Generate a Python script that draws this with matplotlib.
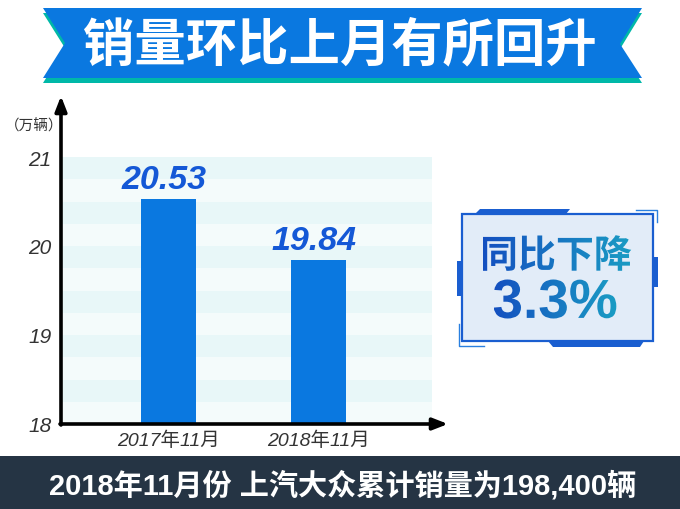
import numpy as np
import matplotlib
matplotlib.use("Agg")
import matplotlib.pyplot as plt
from matplotlib.patches import Polygon, Rectangle, PathPatch
from matplotlib.textpath import TextPath
from matplotlib.font_manager import FontProperties
from matplotlib.colors import LinearSegmentedColormap
from matplotlib.transforms import Affine2D

plt.rcParams['font.family'] = ['Liberation Sans', 'Noto Sans CJK SC', 'DejaVu Sans']

# data
months = ['2017年11月', '2018年11月']
sales = [20.53, 19.84]          # 万辆
y_ticks = [18, 19, 20, 21]
title = '销量环比上月有所回升'
yoy_text = '同比下降'
yoy_value = '3.3%'
footer = '2018年11月份 上汽大众累计销量为198,400辆'
unit = '（万辆）'

W, H = 680, 510
fig = plt.figure(figsize=(W / 100, H / 100), dpi=100)

# main chart axes (pixel box: left 61, right 432, top 158, bottom 425)
ax = fig.add_axes([61 / W, (H - 425) / H, 371 / W, 267 / H])
x = np.arange(len(months))
ax.set_xlim(-0.717, 1.753)
ax.set_ylim(18, 21)

# striped background
for i, y0 in enumerate(np.arange(18, 21, 0.25)):
    c = '#e8f7f8' if i % 2 == 1 else '#f4fbfb'
    ax.axhspan(y0, y0 + 0.25, color=c, lw=0, zorder=0)

bars = ax.bar(x, [v - 18 for v in sales], bottom=18, width=0.367,
              color='#0a78e0', zorder=2)
for xi, v in zip(x, sales):
    ax.text(xi - 0.03, v + 0.22, f'{v:.2f}', ha='center', va='center',
            fontsize=24.5, fontweight='bold', style='italic', color='#1458d6',
            family='Liberation Sans', zorder=3)

for s in ax.spines.values():
    s.set_visible(False)
ax.set_yticks(y_ticks)
ax.set_yticklabels([str(t) for t in y_ticks], style='italic', fontsize=15, color='#333333')
ax.set_xticks(x)
ax.set_xticklabels(months, style='italic', fontsize=14, color='#333333')
ax.tick_params(axis='both', length=0)
ax.tick_params(axis='y', pad=7)
ax.tick_params(axis='x', pad=5)

# overlay in pixel coordinates for decorations
ov = fig.add_axes([0, 0, 1, 1], zorder=5)
ov.set_xlim(0, W)
ov.set_ylim(0, H)
ov.axis('off')

def P(px, py):
    return (px, H - py)

# axis arrows
ov.annotate('', xy=P(61, 97), xytext=P(61, 426),
            arrowprops=dict(arrowstyle='-|>,head_length=0.9,head_width=0.35',
                            color='black', lw=2.6, shrinkA=0, shrinkB=0))
ov.annotate('', xy=P(448, 425), xytext=P(60, 425),
            arrowprops=dict(arrowstyle='-|>,head_length=0.9,head_width=0.35',
                            color='black', lw=2.6, shrinkA=0, shrinkB=0))
ov.text(*P(34, 126), unit, ha='center', va='center', fontsize=10.5,
        style='italic', color='#333333')

# title banner
banner = [(43, 9), (642, 9), (620, 45), (642, 79), (43, 79), (65, 44)]
ov.add_patch(Polygon([P(a, b + 5) for a, b in banner], closed=True,
                     color='#00b8a8', lw=0))
ov.add_patch(Polygon([P(a, b) for a, b in banner], closed=True,
                     color='#0a78e0', lw=0))
ov.text(*P(340, 45), title, ha='center', va='center', fontsize=37,
        fontweight='bold', color='white', family='Noto Sans CJK SC')

# footer bar
ov.add_patch(Rectangle(P(0, 510), W, 53, color='#253444', lw=0))
ov.text(*P(343, 486), footer, ha='center', va='center', fontsize=21,
        fontweight='bold', color='white',
        family=['Liberation Sans', 'Noto Sans CJK SC'])

# year-on-year box
dark = '#1a5ed0'
ov.add_patch(Polygon([P(475, 215), P(480, 210), P(570, 210), P(566, 215)],
                     closed=True, color=dark, lw=0))
ov.add_patch(Polygon([P(548, 342), P(644, 342), P(640, 348), P(553, 348)],
                     closed=True, color=dark, lw=0))
ov.add_patch(Rectangle(P(457, 297), 5, 35, color=dark, lw=0))
ov.add_patch(Rectangle(P(653, 288), 5, 30, color=dark, lw=0))
ov.add_patch(Rectangle(P(462, 342), 191, 127, facecolor='#e2ecf8',
                       edgecolor=dark, lw=1.6))
ov.plot(*zip(P(459, 325), P(459, 347), P(484, 347)), color='#2a80e0', lw=1)
ov.plot(*zip(P(636, 211), P(657, 211), P(657, 223)), color='#2a80e0', lw=1)

grad_cmap = LinearSegmentedColormap.from_list('g', ['#1450c0', '#1a9cc4'])

def gradient_text(s, cx, cy, size, family):
    fp = FontProperties(family=family, weight='bold')
    tp = TextPath((0, 0), s, size=size, prop=fp)
    bb = tp.get_extents()
    tr = Affine2D().translate(cx - (bb.x0 + bb.x1) / 2, H - cy - (bb.y0 + bb.y1) / 2)
    path = tr.transform_path(tp)
    patch = PathPatch(path, facecolor='none', edgecolor='none')
    ov.add_patch(patch)
    e = path.get_extents()
    g = np.linspace(0, 1, 256).reshape(1, -1)
    im = ov.imshow(g, extent=[e.x0, e.x1, e.y0, e.y1], cmap=grad_cmap,
                   aspect='auto', zorder=6)
    im.set_clip_path(patch)

gradient_text(yoy_text, 557, 254, 38, 'Noto Sans CJK SC')
gradient_text(yoy_value, 555, 300, 55, 'Liberation Sans')
ov.set_xlim(0, W)
ov.set_ylim(0, H)

fig.savefig('out.png', dpi=100)
